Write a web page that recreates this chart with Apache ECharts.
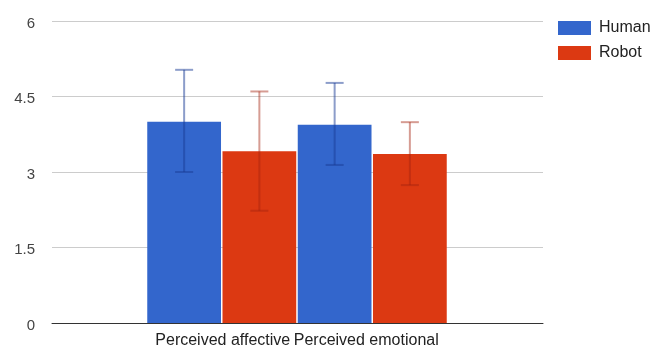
<!DOCTYPE html>
<html><head><meta charset="utf-8">
<script src="https://cdn.jsdelivr.net/npm/echarts@6/dist/echarts.min.js"></script>
<style>html,body{margin:0;padding:0;background:#fff}#c{width:652px;height:349px}</style>
</head><body><div id="c"></div>
<script>
const categories = ['Perceived affective', 'Perceived emotional'];
const seriesNames = ['Human', 'Robot'];
const humanValues = [4.0, 3.94];
const robotValues = [3.41, 3.36];
const humanLow = [3.0, 3.14];
const humanHigh = [5.03, 4.77];
const robotLow = [2.23, 2.74];
const robotHigh = [4.60, 3.99];
const yTicks = [0, 1.5, 3, 4.5, 6];

const colors = ['#3366cc', '#dc3912'];
const errColors = ['rgba(25,60,150,0.5)', 'rgba(165,35,15,0.45)'];
const font = 'Liberation Sans, Arial, sans-serif';

const chart = echarts.init(document.getElementById('c'));

function errSeries(idx, low, high) {
  return {
    type: 'custom', xAxisIndex: 1, yAxisIndex: 1, z: 10,
    data: categories.map((c, i) => [i, low[i], high[i]]),
    renderItem: function (params, api) {
      const ci = api.value(0);
      const lo = api.coord([ci, api.value(1)]);
      const hi = api.coord([ci, api.value(2)]);
      const band = api.size([1, 0])[0];
      const barW = band * 0.99 / 2.02;
      const off = (idx === 0 ? -1 : 1) * (barW / 2 + barW * 0.01);
      const x = lo[0] + off;
      const cap = 9;
      const st = { stroke: errColors[idx], lineWidth: 2 };
      return {
        type: 'group', children: [
          { type: 'line', shape: { x1: x, y1: lo[1], x2: x, y2: hi[1] }, style: st },
          { type: 'line', shape: { x1: x - cap, y1: hi[1], x2: x + cap, y2: hi[1] }, style: st },
          { type: 'line', shape: { x1: x - cap, y1: lo[1], x2: x + cap, y2: lo[1] }, style: st }
        ]
      };
    }
  };
}

chart.setOption({
  animation: false,
  textStyle: { fontFamily: font },
  legend: {
    orient: 'vertical', left: 558, top: 20, padding: 0, itemWidth: 33, itemHeight: 14, itemGap: 9,
    icon: 'rect', data: seriesNames,
    textStyle: { fontSize: 16, color: '#222', fontFamily: font, padding: [0, 0, 0, 3] }
  },
  grid: [
    { left: 52, right: 109, top: 21, bottom: 26 },
    { left: 146.5, right: 204.5, top: 21, bottom: 26 }
  ],
  xAxis: [
    { type: 'value', gridIndex: 0, min: 0, max: 1, axisLabel: { show: false }, axisTick: { show: false },
      splitLine: { show: false }, axisLine: { show: true, lineStyle: { color: '#333', width: 1 } } },
    { type: 'category', gridIndex: 1, data: categories, axisLine: { show: false }, axisTick: { show: false },
      axisLabel: { fontSize: 16, color: '#222', margin: 10, interval: 0, fontFamily: font,
        formatter: (v, i) => i === 1 ? '{s|' + v + '}' : '{a|' + v + '}',
        rich: {
          a: { fontSize: 16, color: '#222', fontFamily: font, padding: [0, 0, 0, 2] },
          s: { fontSize: 16, color: '#222', fontFamily: font, padding: [0, 12, 0, 0] }
        } } }
  ],
  yAxis: [
    { type: 'value', gridIndex: 0, min: 0, max: 6, interval: 1.5, axisLine: { show: false }, axisTick: { show: false },
      axisLabel: { fontSize: 15, color: '#444', margin: 17, fontFamily: font,
        formatter: v => '{v|' + v + '}',
        rich: { v: { fontSize: 15, color: '#444', fontFamily: font, padding: [5, 0, 0, 0] } } },
      splitLine: { lineStyle: { color: '#cccccc', width: 1 } } },
    { type: 'value', gridIndex: 1, min: 0, max: 6, interval: 1.5, show: false }
  ],
  series: [
    { name: seriesNames[0], type: 'bar', xAxisIndex: 1, yAxisIndex: 1, data: humanValues,
      itemStyle: { color: colors[0] }, barGap: '2%', barCategoryGap: '1%' },
    { name: seriesNames[1], type: 'bar', xAxisIndex: 1, yAxisIndex: 1, data: robotValues,
      itemStyle: { color: colors[1] }, barGap: '2%', barCategoryGap: '1%' },
    errSeries(0, humanLow, humanHigh),
    errSeries(1, robotLow, robotHigh),
    { type: 'line', xAxisIndex: 0, yAxisIndex: 0, data: [], silent: true }
  ]
});
</script></body></html>
